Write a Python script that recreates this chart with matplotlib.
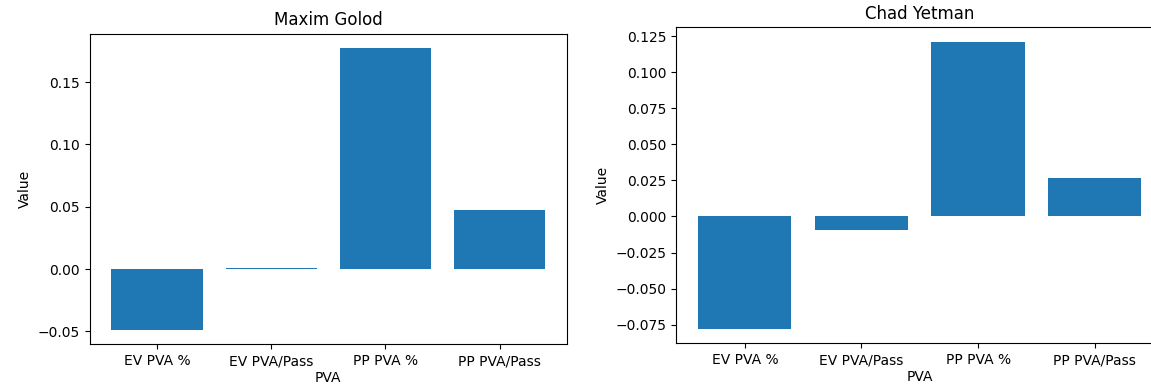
import matplotlib
matplotlib.use('Agg')
import matplotlib.pyplot as plt

# data
categories = ['EV PVA %', 'EV PVA/Pass', 'PP PVA %', 'PP PVA/Pass']
golod_values = [-0.0490, 0.0012, 0.1775, 0.0478]
yetman_values = [-0.0780, -0.0095, 0.1212, 0.0265]

fig = plt.figure(figsize=(11.51, 3.89), dpi=100)
ax_1 = fig.add_axes([0.0779, 0.1149, 0.4147, 0.7985])
# right plot runs past the edge of the picture
ax_2 = fig.add_axes([0.5873, 0.1175, 0.4237, 0.8123])

ax_1.bar(categories, golod_values)
ax_1.set_title('Maxim Golod')
ax_1.set_xlabel('PVA', labelpad=2)
ax_1.set_ylabel('Value')

ax_2.bar(categories, yetman_values)
ax_2.set_title('Chad Yetman')
ax_2.set_xlabel('PVA', labelpad=2)
ax_2.set_ylabel('Value')

fig.savefig('out.png', dpi=100)
